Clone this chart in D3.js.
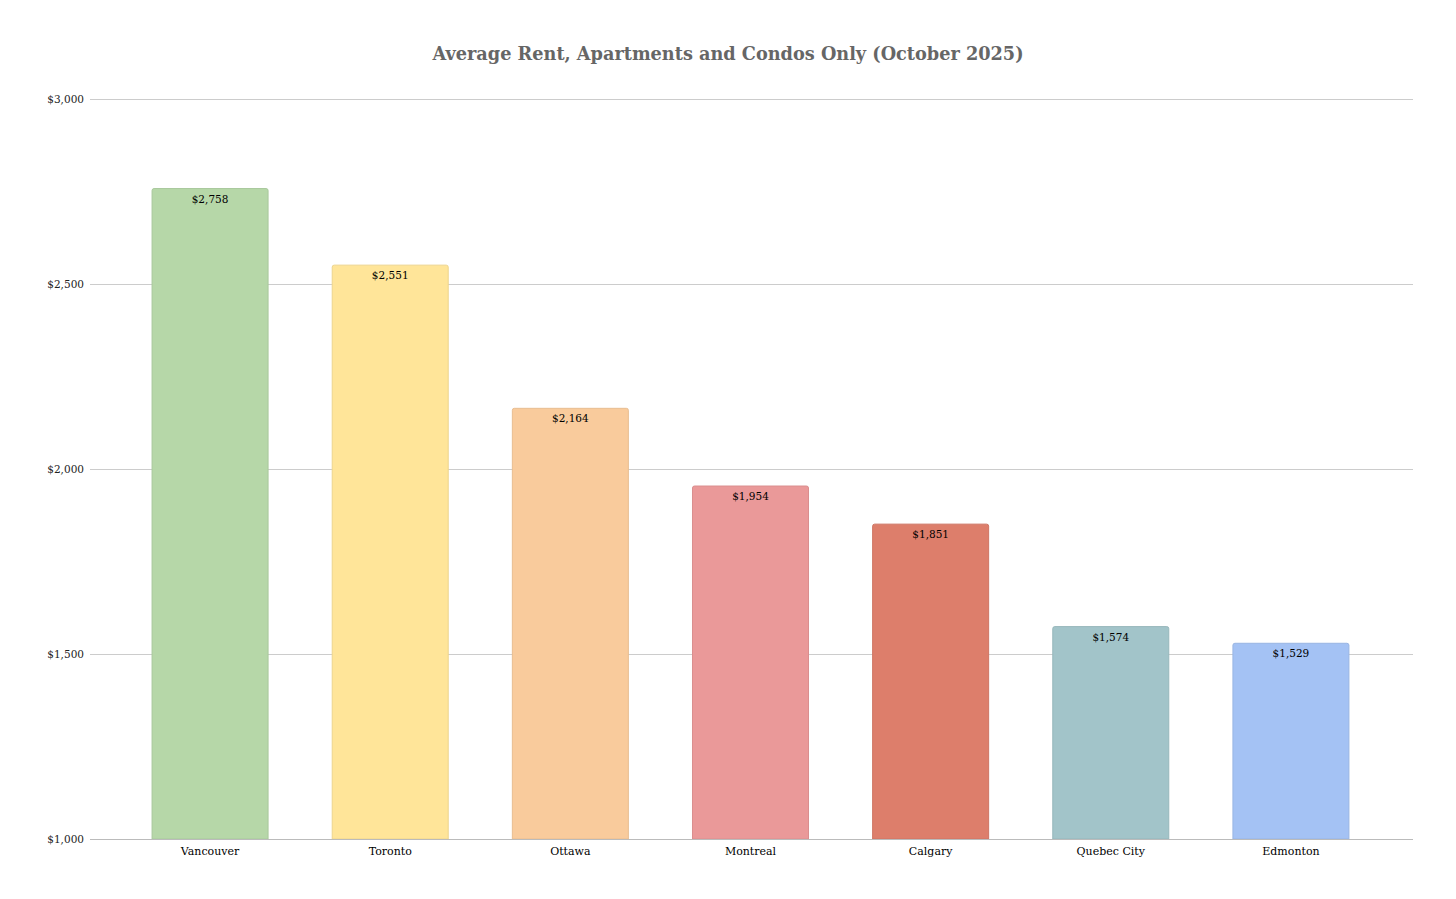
<!DOCTYPE html>
<html>
<head>
<meta charset="utf-8">
<script src="https://cdn.jsdelivr.net/npm/d3@7"></script>
<style>
  body { margin: 0; background: #fff; }
  svg text { font-family: Georgia, "DejaVu Serif", "Liberation Serif", serif; }
  .grid line { stroke: #cccccc; stroke-width: 1; }
</style>
</head>
<body>
<svg id="chart" width="1456" height="899"></svg>
<script>
// data
const cities = ["Vancouver", "Toronto", "Ottawa", "Montreal", "Calgary", "Quebec City", "Edmonton"];
const rents = [2758, 2551, 2164, 1954, 1851, 1574, 1529];
const barColors = ["#b6d7a8", "#ffe599", "#f9cb9c", "#ea9999", "#dd7e6b", "#a2c4c9", "#a4c2f4"];
const yTicks = [1000, 1500, 2000, 2500, 3000];

const svg = d3.select("#chart");
const plotLeft = 90, plotRight = 1413, plotTop = 99, plotBottom = 839;

let x = d3.scaleBand()
    .domain(cities)
    .range([120, 1381])
    .paddingInner(0.356)
    .paddingOuter(0.178);

let y = d3.scaleLinear()
    .domain([1000, 3000])
    .range([plotBottom, plotTop]);

let fmt = d => "$" + d3.format(",")(d);

// title
svg.append("text")
    .attr("x", 728)
    .attr("y", 60)
    .attr("text-anchor", "middle")
    .attr("font-size", "17.7px")
    .attr("font-weight", "bold")
    .attr("fill", "#666666")
    .text("Average Rent, Apartments and Condos Only (October 2025)");

// gridlines
let grid = svg.append("g").classed("grid", true);
grid.selectAll("line")
    .data(yTicks)
    .enter().append("line")
    .attr("x1", plotLeft)
    .attr("x2", plotRight)
    .attr("y1", d => Math.round(y(d)) + 0.5)
    .attr("y2", d => Math.round(y(d)) + 0.5);

// y axis labels
let yAxis = d3.axisLeft(y).tickValues(yTicks).tickFormat(fmt).tickSize(0).tickPadding(6);
let yg = svg.append("g")
    .attr("transform", "translate(" + plotLeft + ",0)")
    .call(yAxis);
yg.select(".domain").remove();
yg.selectAll("text")
    .attr("font-size", "10.5px")
    .attr("fill", "#222");

// bars, flat bottom and slightly rounded top
let r = 2;
let barPath = d => {
    let x0 = x(d.city), x1 = x0 + x.bandwidth();
    let y0 = y(d.value), y1 = y(1000);
    return "M" + x0 + "," + y1 + "V" + (y0 + r) + "Q" + x0 + "," + y0 + " " + (x0 + r) + "," + y0 +
        "H" + (x1 - r) + "Q" + x1 + "," + y0 + " " + x1 + "," + (y0 + r) + "V" + y1 + "Z";
};
let data = cities.map((c, i) => ({city: c, value: rents[i], color: barColors[i]}));

svg.append("g").selectAll("path")
    .data(data)
    .enter().append("path")
    .attr("d", barPath)
    .attr("fill", d => d.color)
    .attr("stroke", d => d3.color(d.color).darker(0.2))
    .attr("stroke-width", 1);

// value labels
svg.append("g").selectAll("text")
    .data(data)
    .enter().append("text")
    .attr("x", d => x(d.city) + x.bandwidth() / 2)
    .attr("y", d => y(d.value) + 14)
    .attr("text-anchor", "middle")
    .attr("font-size", "10.5px")
    .attr("fill", "#000")
    .text(d => fmt(d.value));

// x axis
let xAxis = d3.axisBottom(x).tickSize(0).tickPadding(8);
let xg = svg.append("g")
    .attr("transform", "translate(0," + plotBottom + ")")
    .call(xAxis);
xg.select(".domain").remove();
xg.selectAll("text")
    .attr("font-size", "11px")
    .attr("fill", "#000");

// baseline drawn on top of bars
svg.append("line")
    .attr("x1", plotLeft).attr("x2", plotRight)
    .attr("y1", plotBottom + 0.5).attr("y2", plotBottom + 0.5)
    .attr("stroke", "#bbbbbb");
</script>
</body>
</html>
